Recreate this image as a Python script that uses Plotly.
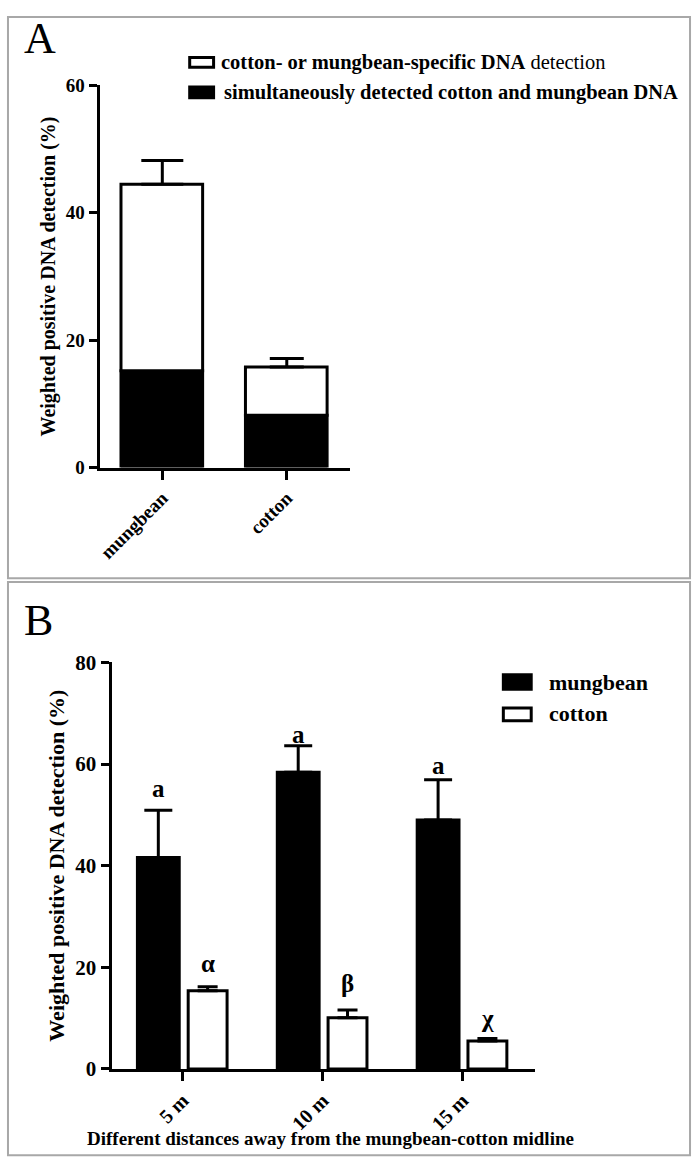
import plotly.graph_objects as go

# ---------------- data ----------------
# Panel A
a_categories = ["mungbean", "cotton"]
a_simultaneous = [15.2, 8.2]      # black segment
a_specific = [29.3, 7.6]          # white segment (stacked on top)
a_total_sd = [3.7, 1.3]           # error on total
a_yticks = [0, 20, 40, 60]

# Panel B
b_categories = ["5 m", "10 m", "15 m"]
b_mungbean = [41.6, 58.4, 49.0]
b_mungbean_sd = [9.3, 5.2, 7.9]
b_cotton = [15.4, 10.1, 5.5]
b_cotton_sd = [0.8, 1.5, 0.5]
b_mungbean_letters = ["a", "a", "a"]
b_cotton_letters = ["α", "β", "χ"]
b_yticks = [0, 20, 40, 60, 80]

W, H = 696, 1175
FONT = "Liberation Serif"


def px(x):
    return x / W


def py(y):
    return 1 - y / H


fig = go.Figure()

# ---------------- Panel A ----------------
fig.add_trace(go.Bar(
    x=a_categories, y=a_simultaneous, xaxis="x", yaxis="y",
    width=0.656, offset=-0.332,
    marker=dict(color="black", line=dict(color="black", width=3)),
    name="simultaneously detected cotton and mungbean DNA",
))
fig.add_trace(go.Bar(
    x=a_categories, y=a_specific, base=a_simultaneous, xaxis="x", yaxis="y",
    width=0.656, offset=-0.332,
    marker=dict(color="white", line=dict(color="black", width=3)),
    name="cotton- or mungbean-specific DNA detection",
))
a_totals = [s + p for s, p in zip(a_simultaneous, a_specific)]
a_capw = [21, 17]
for i, cat in enumerate(a_categories):
    fig.add_trace(go.Scatter(
        x=[cat], y=[a_totals[i]], xaxis="x", yaxis="y", mode="markers",
        marker=dict(size=1, color="rgba(0,0,0,0)"),
        error_y=dict(type="data", array=[a_total_sd[i]], arrayminus=[0],
                     symmetric=False, thickness=3, width=a_capw[i], color="black"),
        hoverinfo="skip", showlegend=False,
    ))

# ---------------- Panel B ----------------
fig.add_trace(go.Bar(
    x=b_categories, y=b_mungbean, xaxis="x2", yaxis="y2",
    width=0.299, offset=-0.324,
    marker=dict(color="black", line=dict(color="black", width=3)),
    error_y=dict(type="data", array=b_mungbean_sd, arrayminus=[0] * 3,
                 symmetric=False, thickness=3, width=14, color="black"),
    name="mungbean",
))
fig.add_trace(go.Bar(
    x=b_categories, y=b_cotton, xaxis="x2", yaxis="y2",
    width=0.278, offset=0.039,
    marker=dict(color="white", line=dict(color="black", width=3)),
    error_y=dict(type="data", array=b_cotton_sd, arrayminus=[0] * 3,
                 symmetric=False, thickness=3, width=10, color="black"),
    name="cotton",
))

axis_common = dict(
    showline=True, linewidth=3, linecolor="black", showgrid=False,
    zeroline=False, ticks="outside", tickwidth=3, tickcolor="black",
)

fig.update_layout(
    width=W, height=H, autosize=False,
    margin=dict(l=0, r=0, t=0, b=0),
    paper_bgcolor="white", plot_bgcolor="white",
    barmode="overlay", showlegend=False,
    font=dict(family=FONT, color="black"),
    xaxis=dict(
        domain=[px(97), px(349)], anchor="y", type="category",
        range=[-0.504, 1.512], ticklen=9, tickangle=-45,
        tickfont=dict(family=FONT, size=19, weight="bold", color="black"),
        **axis_common,
    ),
    yaxis=dict(
        domain=[py(465), py(75)], anchor="x", range=[0, 60],
        tickvals=a_yticks, ticklen=8,
        tickfont=dict(family=FONT, size=19, weight="bold", color="black"),
        title=dict(text="Weighted positive DNA detection (%)", standoff=5,
                   font=dict(family=FONT, size=20, weight="bold", color="black")),
        **axis_common,
    ),
    xaxis2=dict(
        domain=[px(109), px(534)], anchor="y2", type="category",
        range=[-0.509, 2.516], ticklen=9, tickangle=-45,
        tickfont=dict(family=FONT, size=20, weight="bold", color="black"),
        **axis_common,
    ),
    yaxis2=dict(
        domain=[py(1079), py(664)], anchor="x2", range=[0, 80],
        tickvals=b_yticks, ticklen=8,
        tickfont=dict(family=FONT, size=21, weight="bold", color="black"),
        title=dict(text="Weighted positive DNA detection (%)", standoff=5,
                   font=dict(family=FONT, size=22, weight="bold", color="black")),
        **axis_common,
    ),
)

annotations = []
shapes = []

# panel letters
annotations.append(dict(text="A", x=px(19), y=py(27), xref="paper", yref="paper",
                        xanchor="left", yanchor="middle", showarrow=False,
                        font=dict(family=FONT, size=44, color="black")))
annotations.append(dict(text="B", x=px(19), y=py(621), xref="paper", yref="paper",
                        xanchor="left", yanchor="middle", showarrow=False,
                        font=dict(family=FONT, size=44, color="black")))

# Panel A legend
shapes.append(dict(type="rect", xref="paper", yref="paper",
                   x0=px(187.5), x1=px(211.5), y0=py(56.5), y1=py(46.5),
                   line=dict(color="black", width=3), fillcolor="white"))
shapes.append(dict(type="rect", xref="paper", yref="paper",
                   x0=px(187), x1=px(212), y0=py(88), y1=py(76),
                   line=dict(color="black", width=2), fillcolor="black"))
annotations.append(dict(text="<b>cotton- or mungbean-specific DNA</b> detection",
                        x=px(217), y=py(52), xref="paper", yref="paper",
                        xanchor="left", yanchor="middle", showarrow=False,
                        font=dict(family=FONT, size=20.5, color="black")))
annotations.append(dict(text="<b>simultaneously detected cotton and mungbean DNA</b>",
                        x=px(220), y=py(82), xref="paper", yref="paper",
                        xanchor="left", yanchor="middle", showarrow=False,
                        font=dict(family=FONT, size=20.5, color="black")))

# Panel B legend
shapes.append(dict(type="rect", xref="paper", yref="paper",
                   x0=px(502), x1=px(531), y0=py(692), y1=py(676),
                   line=dict(color="black", width=2), fillcolor="black"))
shapes.append(dict(type="rect", xref="paper", yref="paper",
                   x0=px(502.5), x1=px(530.5), y0=py(723.5), y1=py(710.5),
                   line=dict(color="black", width=3), fillcolor="white"))
annotations.append(dict(text="<b>mungbean</b>", x=px(546), y=py(684),
                        xref="paper", yref="paper", xanchor="left", yanchor="middle",
                        showarrow=False, font=dict(family=FONT, size=22, color="black")))
annotations.append(dict(text="<b>cotton</b>", x=px(546), y=py(716),
                        xref="paper", yref="paper", xanchor="left", yanchor="middle",
                        showarrow=False, font=dict(family=FONT, size=22, color="black")))

# Panel B significance letters
m_shift = [22, 11, 14]
c_shift = [23, 27, 20]
for i, cat in enumerate(b_categories):
    annotations.append(dict(text="<b>%s</b>" % b_mungbean_letters[i], x=cat,
                            y=b_mungbean[i] + b_mungbean_sd[i], xref="x2", yref="y2",
                            xshift=-24, yshift=m_shift[i], yanchor="middle",
                            showarrow=False, font=dict(family=FONT, size=25, color="black")))
    annotations.append(dict(text="<b>%s</b>" % b_cotton_letters[i], x=cat,
                            y=b_cotton[i] + b_cotton_sd[i], xref="x2", yref="y2",
                            xshift=25, yshift=c_shift[i], yanchor="middle",
                            showarrow=False, font=dict(family=FONT, size=25, color="black")))

# Panel B x title
annotations.append(dict(text="<b>Different distances away from the mungbean-cotton midline</b>",
                        x=px(329), y=py(1150), xref="paper", yref="paper",
                        xanchor="center", yanchor="middle", showarrow=False,
                        font=dict(family=FONT, size=19, color="black")))

# panel frames
shapes.append(dict(type="rect", xref="paper", yref="paper",
                   x0=px(5), x1=px(690), y0=py(578), y1=py(5),
                   line=dict(color="#a8a8a8", width=2)))
shapes.append(dict(type="rect", xref="paper", yref="paper",
                   x0=px(5), x1=px(690), y0=py(1167), y1=py(582),
                   line=dict(color="#a8a8a8", width=2)))

fig.update_layout(annotations=annotations, shapes=shapes)

fig.write_html("out.html",
               config={"displayModeBar": False},
               post_script="document.body.style.margin='0px';document.body.style.padding='0px';")
